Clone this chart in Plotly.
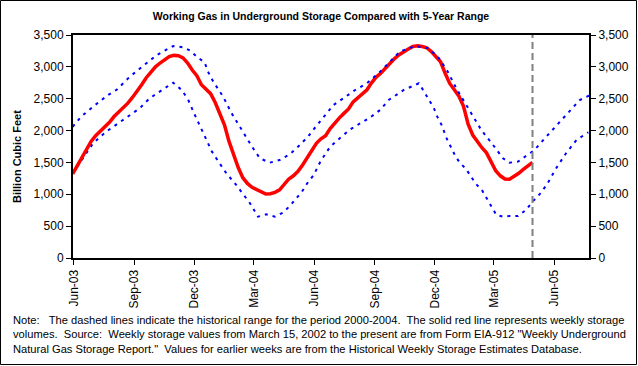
import plotly.graph_objects as go

# ---- data ----
storage_dates = [
    "2003-05-30", "2003-06-06", "2003-06-13", "2003-06-20", "2003-06-27", "2003-07-04",
    "2003-07-11", "2003-07-18", "2003-07-25", "2003-08-01", "2003-08-08", "2003-08-15",
    "2003-08-22", "2003-08-29", "2003-09-05", "2003-09-12", "2003-09-19", "2003-09-26",
    "2003-10-03", "2003-10-10", "2003-10-17", "2003-10-24", "2003-10-31", "2003-11-07",
    "2003-11-14", "2003-11-21", "2003-11-28", "2003-12-05", "2003-12-12", "2003-12-19",
    "2003-12-26", "2004-01-02", "2004-01-09", "2004-01-16", "2004-01-23", "2004-01-30",
    "2004-02-06", "2004-02-13", "2004-02-20", "2004-02-27", "2004-03-05", "2004-03-12",
    "2004-03-19", "2004-03-26", "2004-04-02", "2004-04-09", "2004-04-16", "2004-04-23",
    "2004-04-30", "2004-05-07", "2004-05-14", "2004-05-21", "2004-05-28", "2004-06-04",
    "2004-06-11", "2004-06-18", "2004-06-25", "2004-07-02", "2004-07-09", "2004-07-16",
    "2004-07-23", "2004-07-30", "2004-08-06", "2004-08-13", "2004-08-20", "2004-08-27",
    "2004-09-03", "2004-09-10", "2004-09-17", "2004-09-24", "2004-10-01", "2004-10-08",
    "2004-10-15", "2004-10-22", "2004-10-29", "2004-11-05", "2004-11-12", "2004-11-19",
    "2004-11-26", "2004-12-03", "2004-12-10", "2004-12-17", "2004-12-24", "2004-12-31",
    "2005-01-07", "2005-01-14", "2005-01-21", "2005-01-28", "2005-02-04", "2005-02-11",
    "2005-02-18", "2005-02-25", "2005-03-04", "2005-03-11", "2005-03-18", "2005-03-25",
    "2005-04-01", "2005-04-08", "2005-04-15", "2005-04-22", "2005-04-29",
]
storage_values = [
    1320, 1450, 1565, 1700, 1830, 1920,
    1990, 2060, 2130, 2220, 2290, 2360,
    2430, 2520, 2610, 2720, 2830, 2920,
    3000, 3060, 3110, 3160, 3180, 3175,
    3140, 3060, 2950, 2860, 2720, 2650,
    2580, 2440, 2270, 2090, 1830, 1620,
    1420, 1260, 1170, 1110, 1070, 1030,
    1005, 1010, 1030, 1070, 1160, 1240,
    1290, 1360, 1460, 1570, 1680, 1800,
    1870, 1920, 2030, 2120, 2200, 2270,
    2340, 2450, 2510, 2570, 2640, 2750,
    2840, 2900, 2980, 3050, 3130, 3190,
    3240, 3280, 3320, 3330, 3320, 3300,
    3240, 3150, 3080, 2900, 2740, 2640,
    2540, 2380, 2100, 1930, 1820, 1730,
    1650, 1500, 1370, 1290, 1240, 1235,
    1280, 1330, 1390, 1440, 1500,
]

max_dates = [
    "2003-05-30", "2003-06-12", "2003-06-30", "2003-07-23", "2003-08-05", "2003-08-25",
    "2003-09-14", "2003-10-05", "2003-10-30", "2003-11-14", "2003-11-25", "2003-12-05",
    "2003-12-17", "2003-12-22", "2003-12-30", "2004-01-14", "2004-01-27", "2004-02-11",
    "2004-02-27", "2004-03-10", "2004-03-25", "2004-04-09", "2004-04-25", "2004-05-10",
    "2004-05-23", "2004-05-30", "2004-06-14", "2004-06-30", "2004-07-15", "2004-08-02",
    "2004-08-20", "2004-09-09", "2004-09-24", "2004-10-09", "2004-11-01", "2004-11-21",
    "2004-12-06", "2004-12-21", "2005-01-03", "2005-01-18", "2005-01-28", "2005-02-10",
    "2005-02-28", "2005-03-15", "2005-03-25", "2005-04-07", "2005-04-19", "2005-05-02",
    "2005-05-20", "2005-06-14", "2005-07-10", "2005-07-24",
]
max_values = [
    2060, 2220, 2375, 2560, 2640, 2846,
    3013, 3186, 3327, 3307, 3254, 3160,
    3066, 2924, 2768, 2532, 2271, 2009,
    1747, 1565, 1496, 1538, 1632, 1774,
    1915, 2009, 2192, 2401, 2506, 2637,
    2742, 2924, 3081, 3238, 3327, 3291,
    3160, 2924, 2663, 2401, 2244, 2009,
    1774, 1565, 1496, 1512, 1601, 1695,
    1904, 2192, 2480, 2550,
]

min_dates = [
    "2003-05-30", "2003-06-15", "2003-06-30", "2003-07-20", "2003-07-31", "2003-08-12",
    "2003-08-27", "2003-09-09", "2003-09-24", "2003-10-10", "2003-10-30", "2003-11-12",
    "2003-11-22", "2003-12-02", "2003-12-15", "2003-12-28", "2004-01-07", "2004-01-19",
    "2004-02-01", "2004-02-13", "2004-02-24", "2004-03-07", "2004-03-20", "2004-04-02",
    "2004-04-14", "2004-04-25", "2004-05-05", "2004-05-13", "2004-05-21", "2004-05-31",
    "2004-06-10", "2004-06-25", "2004-07-15", "2004-07-28", "2004-08-10", "2004-08-23",
    "2004-09-09", "2004-09-22", "2004-10-15", "2004-11-07", "2004-11-15", "2004-11-22",
    "2004-11-30", "2004-12-05", "2004-12-13", "2004-12-18", "2004-12-26", "2005-01-02",
    "2005-01-09", "2005-01-17", "2005-01-24", "2005-02-01", "2005-02-11", "2005-02-18",
    "2005-02-26", "2005-03-05", "2005-03-15", "2005-03-25", "2005-04-07", "2005-04-19",
    "2005-04-29", "2005-05-12", "2005-05-22", "2005-06-04", "2005-06-19", "2005-07-05",
    "2005-07-23",
]
min_values = [
    1329, 1565, 1800, 1983, 2061, 2140,
    2244, 2349, 2506, 2611, 2752, 2637,
    2480, 2244, 1957, 1669, 1512, 1329,
    1172, 1015, 858, 649, 685, 649,
    711, 821, 937, 1041, 1172, 1303,
    1512, 1747, 1930, 2035, 2114, 2192,
    2323, 2480, 2637, 2742, 2611, 2480,
    2349, 2218, 2061, 1904, 1722, 1590,
    1486, 1408, 1303, 1172, 1067, 937,
    805, 675, 649, 659, 659, 753,
    884, 1025, 1172, 1408, 1643, 1852,
    1973,
]

current_week = "2005-04-29"
x_range = ["2003-05-30 12:00", "2005-07-24"]
y_ticks = [0, 500, 1000, 1500, 2000, 2500, 3000, 3500]

title_text = "Working Gas in Underground Storage Compared with 5-Year Range"
y_title = "Billion Cubic Feet"
note_lines = [
    "Note:\u00a0\u00a0 The dashed lines indicate the historical range for the period 2000-2004.\u00a0 The solid red line represents weekly storage",
    "volumes.\u00a0 Source:\u00a0 Weekly storage values from March 15, 2002 to the present are from Form EIA-912 \"Weekly Underground",
    "Natural Gas Storage Report.\"\u00a0 Values for earlier weeks are from the Historical Weekly Storage Estimates Database.",
]

FONT = "Arial, 'Liberation Sans', sans-serif"
W, H = 638, 366
L, R, T, B = 73, 49, 35, 108
PW, PH = W - L - R, H - T - B

fig = go.Figure()
fig.add_trace(go.Scatter(x=max_dates, y=max_values, mode="lines",
                         line=dict(color="#0000FF", width=2, dash="3px,5px"),
                         hoverinfo="skip", yaxis="y2"))
fig.add_trace(go.Scatter(x=min_dates, y=min_values, mode="lines",
                         line=dict(color="#0000FF", width=2, dash="3px,5px"),
                         hoverinfo="skip"))
fig.add_trace(go.Scatter(x=storage_dates, y=storage_values, mode="lines",
                         line=dict(color="#FF0000", width=3.5)))

# vertical dashed marker for the current week
fig.add_shape(type="line", xref="x", yref="paper", x0=current_week, x1=current_week,
              y0=0, y1=1, line=dict(color="#808080", width=2, dash="7px,4px"))

# outer chart border
fig.add_shape(type="rect", xref="paper", yref="paper",
              x0=-(L - 0.5) / PW, x1=1 + (R - 1.5) / PW,
              y0=-(B - 1.5) / PH, y1=1 + (T - 0.5) / PH,
              line=dict(color="black", width=1), layer="below")

axis_common = dict(range=[0, 3500], tickvals=y_ticks, tickformat=",", showgrid=False,
                   zeroline=False, ticks="outside", ticklen=5, tickwidth=1, tickcolor="black",
                   showline=True, linecolor="black", linewidth=2,
                   tickfont=dict(family=FONT, size=12, color="black"))

fig.update_layout(
    width=W, height=H,
    margin=dict(l=L, r=R, t=T, b=B, pad=0, autoexpand=False),
    paper_bgcolor="white", plot_bgcolor="white",
    showlegend=False,
    title=dict(text="<b>" + title_text + "</b>", x=321 / W, xanchor="center",
               y=1 - 16 / H, yanchor="middle",
               font=dict(family=FONT, size=10.5, color="black")),
    xaxis=dict(type="date", range=x_range, tick0="2003-06-01", dtick="M3",
               tickformat="%b-%y", tickangle=-90, showgrid=False, zeroline=False,
               ticks="outside", ticklen=5, tickcolor="black",
               showline=True, linecolor="black", linewidth=2, mirror=True,
               tickfont=dict(family=FONT, size=12, color="black")),
    yaxis=dict(**axis_common),
    yaxis2=dict(overlaying="y", side="right", **axis_common),
)

fig.add_annotation(text="<b>" + y_title + "</b>", xref="paper", yref="paper",
                   x=(17 - L) / PW, y=(T + PH - 157) / PH, textangle=-90,
                   showarrow=False, xanchor="center", yanchor="middle",
                   font=dict(family=FONT, size=11, color="black"))

fig.add_annotation(text="<br>".join(note_lines), xref="paper", yref="paper",
                   x=(11 - L) / PW, y=(T + PH - 312) / PH, xanchor="left", yanchor="top",
                   align="left", showarrow=False,
                   font=dict(family=FONT, size=11.15, color="black"))

fig.write_html("out.html", config={"displayModeBar": False},
               post_script="document.body.style.margin='0';document.body.style.overflow='hidden';")
